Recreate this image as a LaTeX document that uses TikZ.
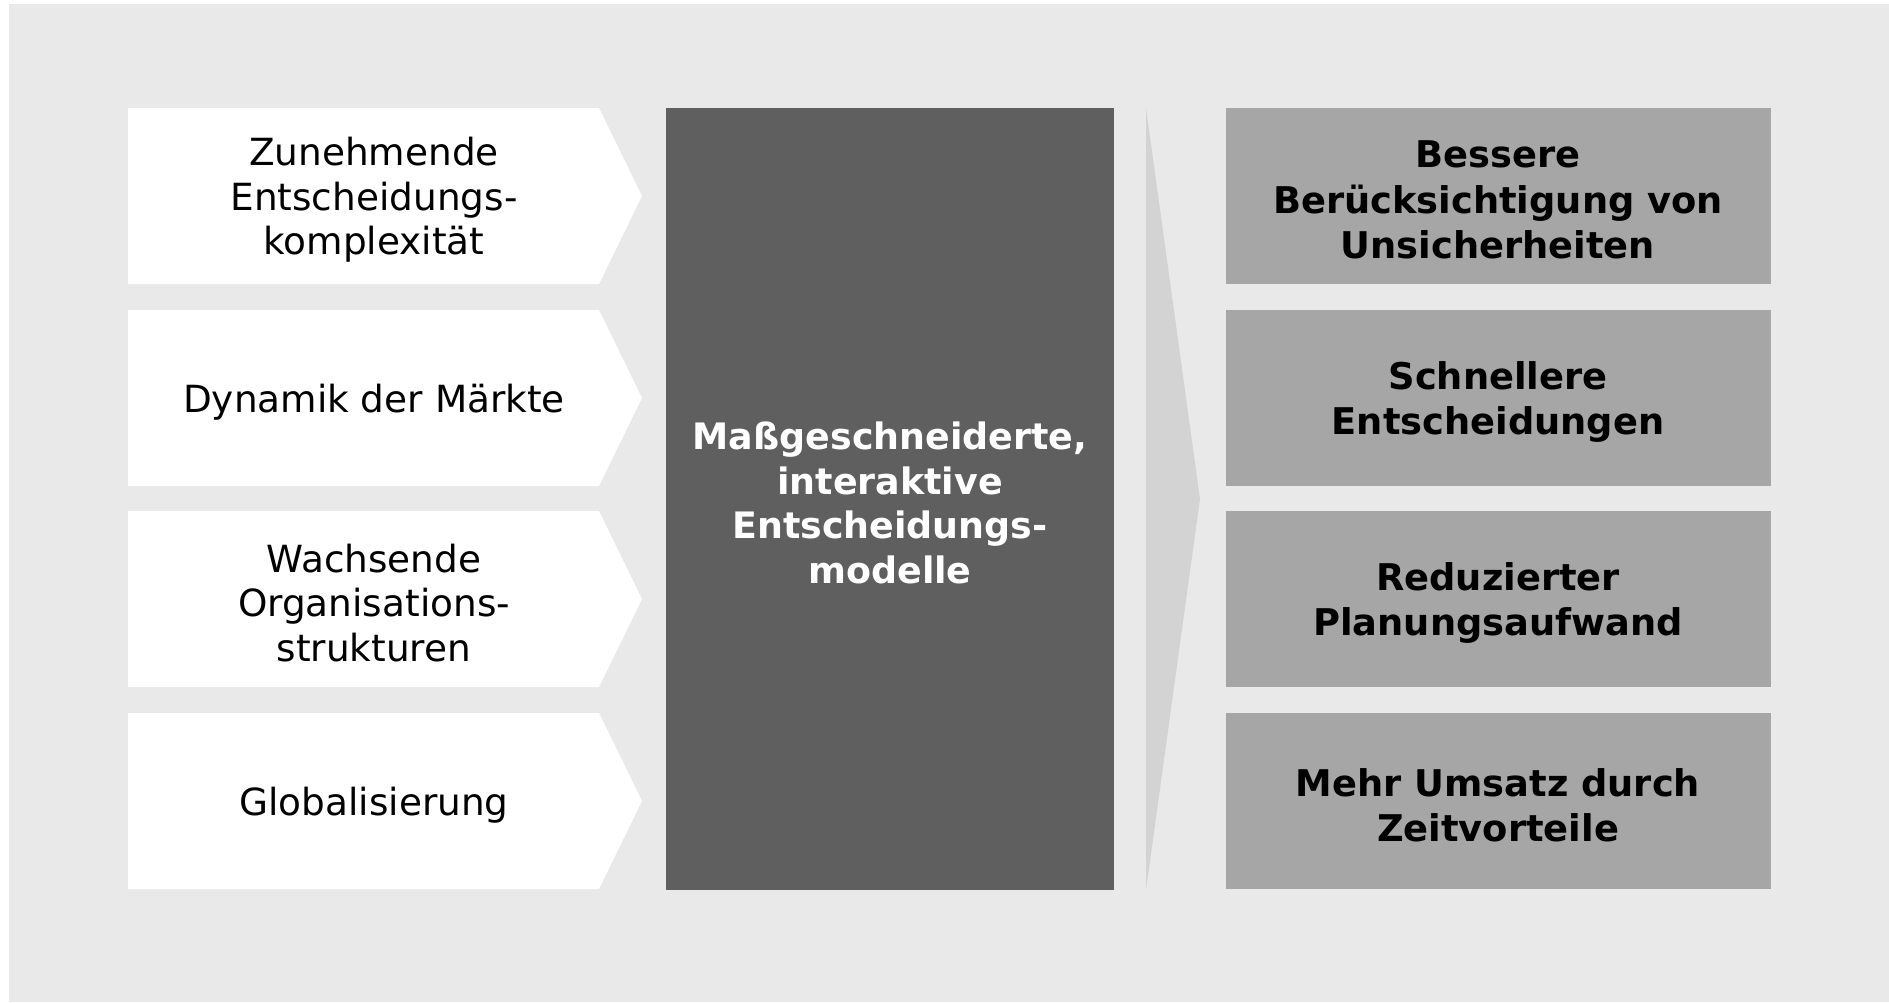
\documentclass[tikz,border=0pt]{standalone}
\usepackage{fontspec}
\setmainfont{DejaVu Sans}
\definecolor{bgc}{HTML}{E9E9E9}
\definecolor{darkc}{HTML}{5F5F5F}
\definecolor{rboxc}{HTML}{A6A6A6}
\definecolor{tric}{HTML}{D3D3D3}
\begin{document}
\begin{tikzpicture}[x=0.5pt,y=-0.5pt,
  lbl/.style={align=center, font=\fontsize{18.7}{22.3}\selectfont, text=black},
  blbl/.style={align=center, font=\fontsize{18.4}{22.6}\selectfont\bfseries, text=black},
  clbl/.style={align=center, font=\fontsize{18.2}{22.3}\selectfont\bfseries, text=white}]
\useasboundingbox (0,0) rectangle (1889,1002);
\fill[bgc] (9,4) rectangle (1889,1002);
\foreach \y in {108,310,511,713} {
  \fill[white] (128,\y) -- (599,\y) -- (642,\y+88) -- (599,\y+176) -- (128,\y+176) -- cycle;
  \fill[rboxc] (1226,\y) rectangle (1771,\y+176);
}
\fill[darkc] (666,108) rectangle (1114,890);
\fill[tric] (1146,108) -- (1200,499) -- (1146,890) -- cycle;
\node[lbl] (l1) at (374,200) {Zunehmende\\Entscheidungs-\\komplexität};
\node[lbl] (l2) at (374,402) {Dynamik der Märkte};
\node[lbl] (l3) at (374,603) {Wachsende\\Organisations-\\strukturen};
\node[lbl] (l4) at (374,805) {Globalisierung};
\node[clbl] (c) at (890,503) {Maßgeschneiderte,\\interaktive\\Entscheidungs-\\modelle};
\node[blbl] (r1) at (1498,200) {Bessere\\Berücksichtigung von\\Unsicherheiten};
\node[blbl] (r2) at (1498,402) {Schnellere\\Entscheidungen};
\node[blbl] (r3) at (1498,603) {Reduzierter\\Planungsaufwand};
\node[blbl] (r4) at (1498,805) {Mehr Umsatz durch\\Zeitvorteile};
\end{tikzpicture}
\end{document}
